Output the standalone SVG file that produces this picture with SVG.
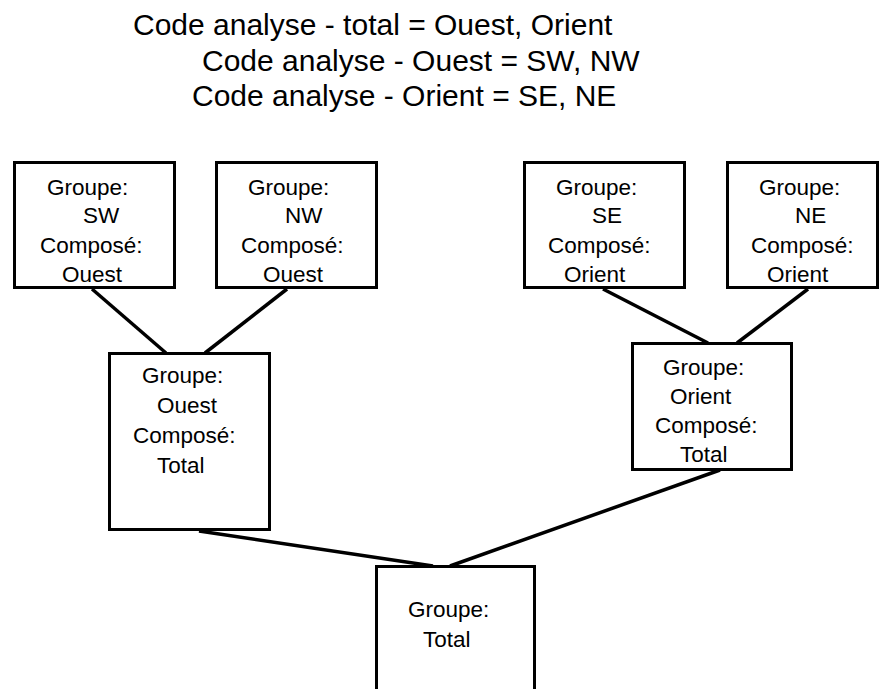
<svg xmlns="http://www.w3.org/2000/svg" width="879" height="689" viewBox="0 0 879 689">
<style>
.box{fill:#fff;stroke:#000;stroke-width:3}
.t{font-family:"Liberation Sans",Arial,sans-serif;font-size:22.5px;fill:#000}
.h{font-family:"Liberation Sans",Arial,sans-serif;font-size:30px;fill:#000}
.c{stroke:#000;stroke-width:3.5;fill:none}
</style>
<rect width="879" height="689" fill="#fff"/>
<g id="title">
<text class="h" x="133" y="35">Code analyse - total = Ouest, Orient</text>
<text class="h" x="202" y="71">Code analyse - Ouest = SW, NW</text>
<text class="h" x="192" y="106">Code analyse - Orient = SE, NE</text>
</g>
<g id="connectors">
<line class="c" x1="92" y1="289" x2="166" y2="353"/>
<line class="c" x1="287" y1="289" x2="205" y2="353"/>
<line class="c" x1="603" y1="289" x2="708" y2="343"/>
<line class="c" x1="808" y1="289" x2="737" y2="343"/>
<line class="c" x1="199" y1="531" x2="433" y2="566"/>
<line class="c" x1="720" y1="470" x2="450" y2="566"/>
</g>
<g id="node-sw">
<rect class="box" x="14.5" y="162.5" width="160" height="125"/>
<text class="t" x="47" y="195">Groupe:</text>
<text class="t" x="83" y="223">SW</text>
<text class="t" x="40" y="253">Composé:</text>
<text class="t" x="62" y="282">Ouest</text>
</g>
<g id="node-nw">
<rect class="box" x="216.5" y="162.5" width="160" height="125"/>
<text class="t" x="248" y="195">Groupe:</text>
<text class="t" x="285" y="223">NW</text>
<text class="t" x="241" y="253">Composé:</text>
<text class="t" x="263" y="282">Ouest</text>
</g>
<g id="node-se">
<rect class="box" x="524.5" y="162.5" width="160" height="125"/>
<text class="t" x="556" y="195">Groupe:</text>
<text class="t" x="592" y="223">SE</text>
<text class="t" x="548" y="253">Composé:</text>
<text class="t" x="564" y="282">Orient</text>
</g>
<g id="node-ne">
<rect class="box" x="727.5" y="162.5" width="150" height="125"/>
<text class="t" x="759" y="195">Groupe:</text>
<text class="t" x="795" y="223">NE</text>
<text class="t" x="751" y="253">Composé:</text>
<text class="t" x="767" y="282">Orient</text>
</g>
<g id="node-ouest">
<rect class="box" x="109.5" y="353.5" width="160" height="176"/>
<text class="t" x="142" y="383">Groupe:</text>
<text class="t" x="157" y="413">Ouest</text>
<text class="t" x="133" y="443">Composé:</text>
<text class="t" x="157" y="473">Total</text>
</g>
<g id="node-orient">
<rect class="box" x="632.5" y="343.5" width="159" height="126"/>
<text class="t" x="663" y="375">Groupe:</text>
<text class="t" x="670" y="404">Orient</text>
<text class="t" x="655" y="433">Composé:</text>
<text class="t" x="680" y="462">Total</text>
</g>
<g id="node-total">
<rect class="box" x="376.5" y="566.5" width="158" height="200"/>
<text class="t" x="408" y="617">Groupe:</text>
<text class="t" x="423" y="647">Total</text>
</g>
</svg>
